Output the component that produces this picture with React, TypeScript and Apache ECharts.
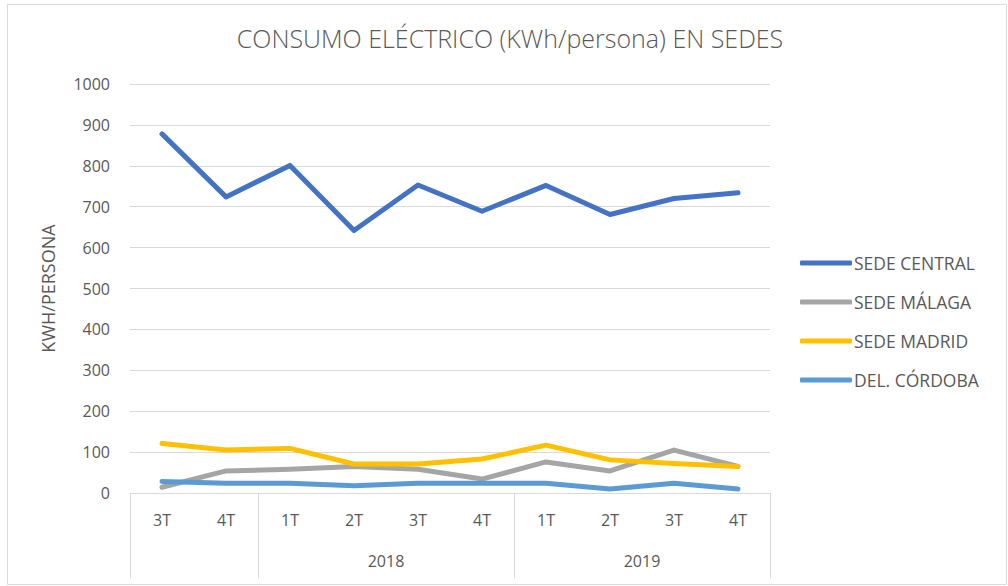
import React, { useEffect, useRef } from "react";
import * as echarts from "echarts";

const quarters = ["3T", "4T", "1T", "2T", "3T", "4T", "1T", "2T", "3T", "4T"];
const years = ["", "2018", "2019"];
const yearSpans = [2, 4, 4];
const sedeCentral = [878, 724, 801, 642, 753, 689, 752, 681, 720, 734];
const sedeMalaga = [14, 54, 58, 65, 58, 34, 76, 54, 105, 65];
const sedeMadrid = [121, 105, 109, 71, 71, 83, 117, 81, 72, 65];
const delCordoba = [28, 24, 24, 18, 24, 24, 24, 10, 24, 10];
const yTicks = [0, 1000, 100];

const TEXT = "#595959";
const GRID = "#d9d9d9";
const FONT = "'Open Sans', 'Liberation Sans', sans-serif";

export default function App() {
  const ref = useRef<HTMLDivElement>(null);
  useEffect(() => {
    if (!ref.current) return;
    const chart = echarts.init(ref.current, undefined, { renderer: "svg" });
    const bounds: number[] = [0];
    yearSpans.forEach((s) => bounds.push(bounds[bounds.length - 1] + s));
    const centers = yearSpans.map((s, i) => bounds[i] + s / 2);
    const yearAt = (v: number) => {
      const i = centers.findIndex((c) => Math.abs(c - v) < 1e-6);
      return i >= 0 ? years[i] : "";
    };
    const mk = (name: string, data: number[], color: string) => ({
      name,
      type: "line",
      data,
      xAxisIndex: 0,
      symbol: "none",
      lineStyle: { color, width: 5, cap: "round", join: "round" },
      itemStyle: { color },
    });
    chart.setOption({
      animation: false,
      backgroundColor: "#fff",
      title: {
        text: "CONSUMO ELÉCTRICO (KWh/persona) EN SEDES",
        left: 505,
        textAlign: "center",
        top: 20,
        textStyle: { color: TEXT, fontSize: 25, fontWeight: 300, fontFamily: FONT },
      },
      legend: {
        orient: "vertical",
        left: 795,
        top: 249,
        itemWidth: 52,
        itemHeight: 5,
        itemGap: 21,
        icon: "roundRect",
        textStyle: {
          color: TEXT,
          fontSize: 17.5,
          lineHeight: 18,
          fontFamily: FONT,
          padding: [0, 0, 0, -3],
        },
        data: ["SEDE CENTRAL", "SEDE MÁLAGA", "SEDE MADRID", "DEL. CÓRDOBA"],
      },
      grid: { left: 130, right: 238, top: 84, bottom: 93, containLabel: false },
      xAxis: [
        {
          type: "category",
          data: quarters,
          boundaryGap: true,
          axisLine: { lineStyle: { color: GRID, width: 1 } },
          axisTick: { show: false },
          axisLabel: { color: TEXT, fontSize: 16, fontFamily: FONT, margin: 19 },
        },
        {
          type: "value",
          min: 0,
          max: quarters.length,
          position: "bottom",
          axisLine: { show: false },
          splitLine: { show: false },
          axisTick: { show: true, customValues: bounds, length: 85, lineStyle: { color: GRID } },
          axisLabel: {
            customValues: centers,
            color: TEXT,
            fontSize: 16,
            fontFamily: FONT,
            margin: 60,
            formatter: (v: number) => yearAt(v),
          },
        },
      ],
      yAxis: {
        type: "value",
        min: yTicks[0],
        max: yTicks[1],
        interval: yTicks[2],
        name: "KWH/PERSONA",
        nameLocation: "middle",
        nameGap: 73,
        nameRotate: 90,
        nameTextStyle: { color: TEXT, fontSize: 18, fontFamily: FONT },
        axisLine: { show: false },
        axisTick: { show: false },
        axisLabel: {
          color: TEXT,
          fontSize: 16,
          fontFamily: FONT,
          margin: 20,
          formatter: (v: number) => String(v),
        },
        splitLine: { lineStyle: { color: GRID, width: 1 } },
      },
      graphic: [
        {
          type: "rect",
          shape: { x: 7.5, y: 4.5, width: 999, height: 580 },
          style: { fill: "none", stroke: GRID, lineWidth: 1 },
          silent: true,
        },
      ],
      series: [
        mk("SEDE CENTRAL", sedeCentral, "#4472C4"),
        mk("SEDE MÁLAGA", sedeMalaga, "#A5A5A5"),
        mk("SEDE MADRID", sedeMadrid, "#FFC000"),
        mk("DEL. CÓRDOBA", delCordoba, "#5B9BD5"),
      ],
    });
    return () => chart.dispose();
  }, []);
  return (
    <div
      ref={ref}
      style={{ position: "absolute", left: 0, top: 0, width: 1008, height: 586 }}
    />
  );
}
